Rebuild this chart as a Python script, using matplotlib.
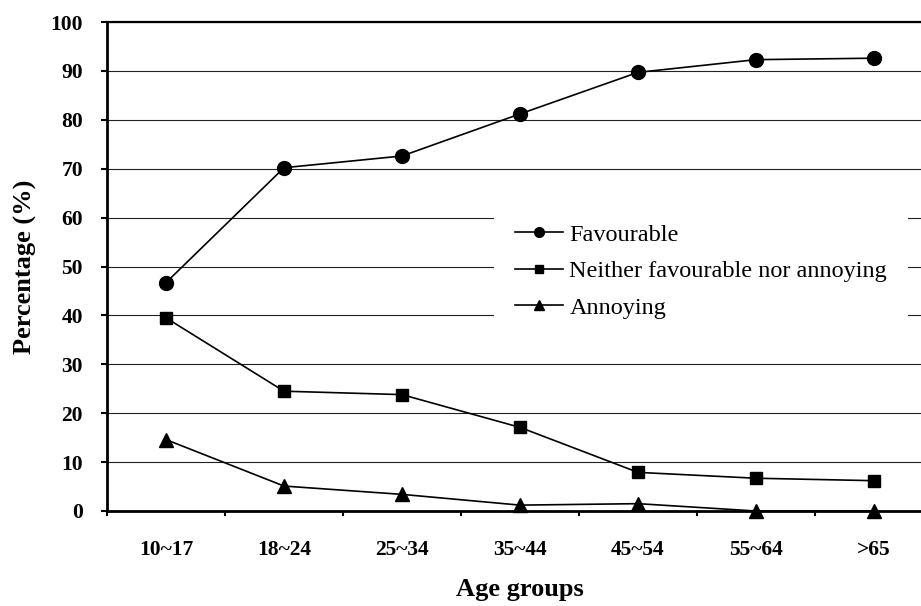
import matplotlib
matplotlib.use("Agg")
import matplotlib.pyplot as plt
import numpy as np

age_groups = ["10~17", "18~24", "25~34", "35~44", "45~54", "55~64", ">65"]
favourable = [46.7, 70.2, 72.6, 81.2, 89.7, 92.3, 92.6]
neither = [39.5, 24.5, 23.8, 17.1, 7.9, 6.7, 6.2]
annoying = [14.6, 5.1, 3.4, 1.2, 1.5, 0.0, 0.0]
y_ticks = [0, 10, 20, 30, 40, 50, 60, 70, 80, 90, 100]

plt.rcParams["font.family"] = ["Liberation Serif", "DejaVu Serif"]

fig = plt.figure(figsize=(9.21, 6.06), dpi=100)
ax = fig.add_axes([107 / 921, 1 - 511 / 606, 826 / 921, 489 / 606])

x = np.arange(len(age_groups))
line_kw = dict(color="black", lw=1.2, clip_on=False, zorder=3)
ax.plot(x, favourable, marker="o", ms=10, label="Favourable", **line_kw)
ax.plot(x, neither, marker="s", ms=8.5, label="Neither favourable nor annoying", **line_kw)
ax.plot(x, annoying, marker="^", ms=10, label="Annoying", **line_kw)

ax.set_xlim(-0.5, len(age_groups) - 0.5)
ax.set_ylim(0, 100)
ax.set_yticks(y_ticks)
ax.set_xticks(x)
ax.set_xticklabels(age_groups)
ax.set_xticks(np.arange(len(age_groups) + 1) - 0.5, minor=True)

ax.grid(axis="y", color="#222222", lw=0.8, zorder=0)
ax.set_axisbelow(True)

ax.spines["right"].set_visible(False)
ax.spines["top"].set_linewidth(1.6)
ax.spines["left"].set_linewidth(2.0)
ax.spines["bottom"].set_linewidth(2.0)

ax.tick_params(axis="y", direction="out", length=4.3, width=1.5, pad=13,
               labelsize=15.5)
ax.tick_params(axis="x", which="major", length=0, pad=21, labelsize=15.5)
ax.tick_params(axis="x", which="minor", direction="out", length=3.5, width=1.5)
for lab in ax.get_xticklabels() + ax.get_yticklabels():
    lab.set_fontweight("bold")

ax.set_ylabel("Percentage (%)", fontsize=19, fontweight="bold", labelpad=10)
ax.set_xlabel("Age groups", fontsize=19, fontweight="bold", labelpad=13)

leg = ax.legend(loc="upper left", bbox_to_anchor=(494 / 921, 1 - 203 / 606),
                bbox_transform=fig.transFigure, fontsize=17.5,
                frameon=True, facecolor="white", edgecolor="none",
                framealpha=1, fancybox=False, handlelength=2.0,
                handletextpad=0.25, labelspacing=0.6, borderpad=0.85,
                borderaxespad=0, markerscale=0.7)
leg.set_zorder(2)

fig.savefig("out.png", dpi=100)
